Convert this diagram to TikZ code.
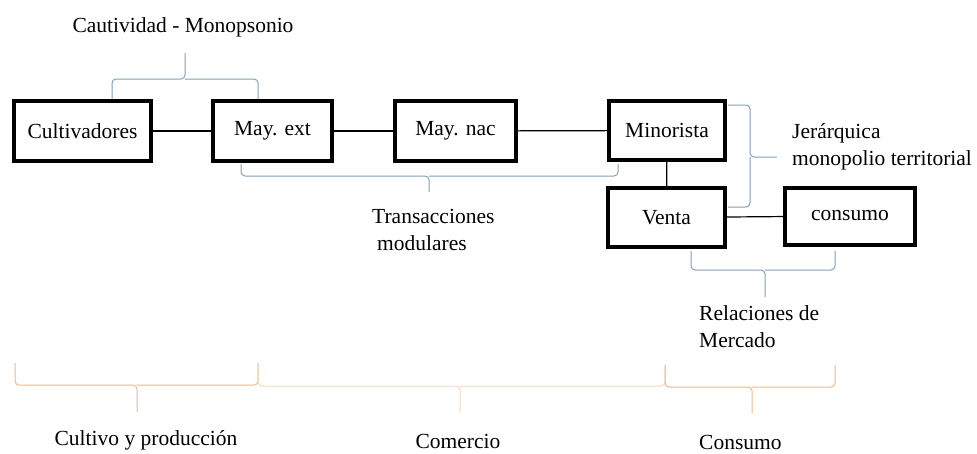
\documentclass[tikz,border=0pt]{standalone}
\usepackage{fontspec}
\setmainfont{Liberation Serif}
\definecolor{bracegray}{RGB}{130,160,185}
\definecolor{braceorange}{RGB}{238,185,140}
\definecolor{braceorangelt}{RGB}{243,215,190}
\tikzset{
  box/.style={draw=black, line width=4pt, fill=white, inner sep=0pt, font=\mainfs},
  link/.style={draw=black, line width=1.2pt},
  bgray/.style={draw=bracegray, line width=1pt, rounded corners=4pt},
  borange/.style={draw=braceorange, line width=1pt, rounded corners=4pt},
  borangelt/.style={draw=braceorangelt, line width=1pt, rounded corners=4pt},
  lbl/.style={inner sep=0pt, font=\mainfs, align=left}
}
\newcommand{\mainfs}{\fontsize{21.5}{26.5}\selectfont}
\begin{document}
\begin{tikzpicture}[x=1pt,y=-1pt]
\useasboundingbox (0,0) rectangle (977,453);

% boxes
\node[box, minimum width=137pt, minimum height=60pt] (cult) at (82.5,131) {Cultivadores};
\node[box, minimum width=119pt, minimum height=60pt] (mayext) at (272.5,131) {May. ext};
\node[box, minimum width=121pt, minimum height=60pt] (maynac) at (455.5,131) {May. nac};
\node[box, minimum width=116pt, minimum height=59pt] (mino) at (667,130.5) {Minorista};
\node[box, minimum width=117pt, minimum height=59pt] (venta) at (666.5,217.5) {Venta};
\node[box, minimum width=130pt, minimum height=57pt] (cons) at (850,216) {consumo};

% connectors
\draw[link] (cult) -- (mayext);
\draw[link] (mayext) -- (maynac);
\draw[link] (maynac) -- (mino);
\draw[link] (mino) -- (venta);
\draw[link] (venta) -- (cons);

% gray braces
\draw[bgray] (112,99) -- (112,79) -- (185,79) -- (185,53);
\draw[bgray] (258,99) -- (258,79) -- (185,79);
\draw[bgray] (241,164) -- (241,176) -- (429,176) -- (429,192);
\draw[bgray] (618,164) -- (618,176) -- (429,176);
\draw[bgray] (728,105) -- (750,105) -- (750,157) -- (777,157);
\draw[bgray] (728,207) -- (750,207) -- (750,157);
\draw[bgray] (691,251) -- (691,270) -- (765,270) -- (765,297);
\draw[bgray] (835,251) -- (835,270) -- (765,270);

% orange braces
\draw[borange] (15,363) -- (15,385) -- (137,385) -- (137,412);
\draw[borange] (258,363) -- (258,385) -- (137,385);
\draw[borangelt] (258,363) -- (258,386) -- (460,386) -- (460,413);
\draw[borangelt] (665,365) -- (665,386) -- (460,386);
\draw[borange] (665,365) -- (665,387) -- (752,387) -- (752,413);
\draw[borange] (835,365) -- (835,387) -- (752,387);

% labels
\node[lbl] (lcaut) at (183,27) {Cautividad - Monopsonio};
\node[lbl, anchor=west] (ltrans) at (372,230) {Transacciones\\\hspace*{5pt}modulares};
\node[lbl, anchor=west] (ljer) at (792,147) {Jerárquica\\monopolio territorial};
\node[lbl, anchor=west] (lrel) at (699,326.5) {Relaciones de\\Mercado};
\node[lbl] (lcult) at (146,440) {Cultivo y producción};
\node[lbl] (lcom) at (458,441) {Comercio};
\node[lbl, anchor=west] (lconsu) at (699,442) {Consumo};
\end{tikzpicture}
\end{document}
